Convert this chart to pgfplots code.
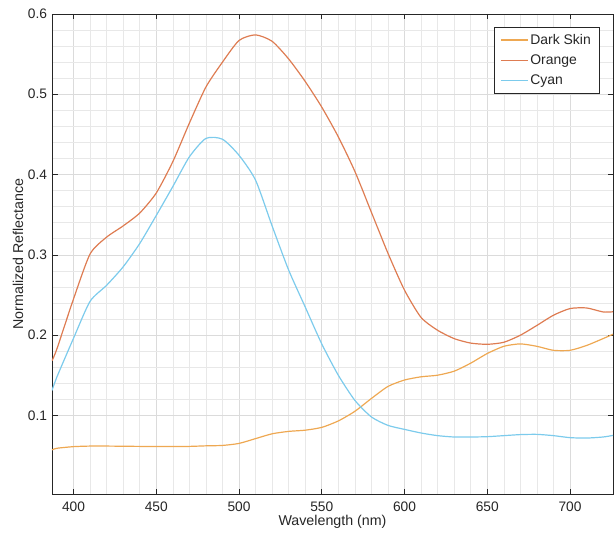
\documentclass[border=0pt]{standalone}
\usepackage{fontspec}
\setmainfont{Liberation Sans}
\usepackage{pgfplots}
\pgfplotsset{compat=1.18}
\definecolor{axisgray}{HTML}{262626}
\definecolor{darkskin}{HTML}{EEA852}
\definecolor{orangec}{HTML}{DE7C52}
\definecolor{cyanc}{HTML}{7CCBEC}
\begin{document}
\begin{tikzpicture}
\begin{axis}[
  scale only axis,
  width=561bp, height=480bp,
  xmin=387, xmax=726,
  ymin=0.002, ymax=0.6,
  xtick={400,450,...,700},
  ytick={0.1,0.2,...,0.6},
  minor x tick num=4,
  minor y tick num=4,
  minor tick length=0pt,
  major tick length=5.5bp,
  tick align=inside,
  grid=both,
  major grid style={draw=gray!28, line width=0.5bp},
  minor grid style={draw=gray!18, line width=0.5bp},
  axis line style={draw=axisgray, line width=0.6bp},
  tick style={draw=axisgray, line width=0.6bp},
  ticklabel style={font=\fontsize{13.8}{16}\selectfont, text=axisgray},
  /pgf/number format/assume math mode=true,
  yticklabel style={/pgf/number format/fixed, /pgf/number format/precision=1, xshift=-1.5bp},
  xticklabel style={/pgf/number format/1000 sep={}, yshift=-4bp},
  xlabel={Wavelength (nm)},
  ylabel={Normalized Reflectance},
  every axis x label/.style={at={(axis description cs:0.5,-0.0583)}, anchor=center,
    font=\fontsize{14.3}{16}\selectfont, text=axisgray},
  every axis y label/.style={at={(axis description cs:-0.0606,0.5)}, anchor=center, rotate=90,
    font=\fontsize{14.3}{16}\selectfont, text=axisgray},
  legend style={
    at={(1,1)}, anchor=north east, xshift=-14bp, yshift=-13bp,
    draw=axisgray, fill=white,
    font=\fontsize{14}{16}\selectfont, text=axisgray,
    inner xsep=6bp, inner ysep=5bp, row sep=5bp,
    cells={anchor=west},
  },
  legend image code/.code={\draw[#1] (0bp,0bp) -- (27bp,0bp);},
  clip=true,
]
\addlegendimage{darkskin, line width=1.2bp}
\addlegendentry{Dark Skin}
\addlegendimage{orangec, line width=1.2bp}
\addlegendentry{Orange}
\addlegendimage{cyanc, line width=1.2bp}
\addlegendentry{Cyan}
\addplot[darkskin, line width=1.2bp, smooth, tension=0.4, forget plot] coordinates {
  (387,0.057) (390,0.059) (400,0.061) (410,0.0617) (420,0.0617) (430,0.0615)
  (440,0.0613) (450,0.0612) (460,0.0612) (470,0.0613) (480,0.062) (490,0.0625)
  (500,0.065) (510,0.071) (520,0.077) (530,0.080) (540,0.0815) (550,0.085)
  (560,0.093) (570,0.105) (580,0.121) (590,0.136) (600,0.144) (610,0.148)
  (620,0.150) (630,0.155) (640,0.165) (650,0.177) (660,0.186) (670,0.189)
  (680,0.186) (690,0.181) (700,0.181) (710,0.187) (720,0.1956) (726,0.201)
};
\addplot[orangec, line width=1.2bp, smooth, tension=0.4, forget plot] coordinates {
  (387,0.168) (390,0.183) (400,0.245) (410,0.301) (420,0.322) (430,0.336)
  (440,0.352) (450,0.377) (460,0.416) (470,0.464) (480,0.509) (490,0.540)
  (500,0.567) (510,0.574) (520,0.566) (530,0.544) (540,0.516) (550,0.484)
  (560,0.447) (570,0.404) (580,0.353) (590,0.302) (600,0.256) (610,0.222)
  (620,0.206) (630,0.1956) (640,0.190) (650,0.1885) (660,0.191) (670,0.1998)
  (680,0.212) (690,0.2247) (700,0.233) (710,0.2338) (720,0.2288) (726,0.229)
};
\addplot[cyanc, line width=1.2bp, smooth, tension=0.4, forget plot] coordinates {
  (387,0.131) (390,0.148) (400,0.196) (410,0.242) (420,0.262) (430,0.285)
  (440,0.314) (450,0.349) (460,0.385) (470,0.422) (480,0.445) (490,0.444)
  (500,0.424) (510,0.393) (520,0.336) (530,0.281) (540,0.235) (550,0.189)
  (560,0.150) (570,0.1187) (580,0.098) (590,0.0875) (600,0.0825) (610,0.078)
  (620,0.0747) (630,0.073) (640,0.073) (650,0.0734) (660,0.0747) (670,0.076)
  (680,0.0763) (690,0.0747) (700,0.0722) (710,0.0717) (720,0.073) (726,0.075)
};
\end{axis}
\pgfresetboundingbox
\path ([shift={(-52bp,-43bp)}]current axis.south west) rectangle ([shift={(1bp,14bp)}]current axis.north east);
\end{tikzpicture}
\end{document}
